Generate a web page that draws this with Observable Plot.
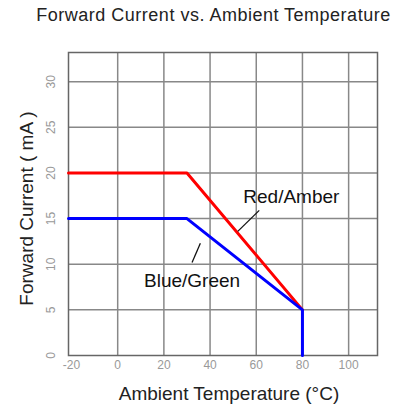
<!DOCTYPE html>
<html>
<head>
<meta charset="utf-8">
<script src="https://cdn.jsdelivr.net/npm/d3@7"></script>
<script src="https://cdn.jsdelivr.net/npm/@observablehq/plot@0.6"></script>
<style>
  html, body { margin: 0; padding: 0; background: #fff; }
  body { width: 404px; height: 407px; overflow: hidden; font-family: "Liberation Sans", Arial, sans-serif; }
  #title { height: 30px; line-height: 30px; font-size: 18px; letter-spacing: 0.5px; color: #222; text-align: center; padding-left: 23px; white-space: nowrap; }
  #chart svg { display: block; }
</style>
</head>
<body>
<div id="title">Forward Current vs. Ambient Temperature</div>
<div id="chart"></div>
<script>
// Data
const redTemp = [-21.3, 30, 80];
const redCurrent = [20, 20, 5];
const blueTemp = [-21.3, 30, 80, 80];
const blueCurrent = [15, 15, 5, 0];

const xTicks = [-20, 0, 20, 40, 60, 80, 100];
const yTicks = [0, 5, 10, 15, 20, 25, 30];

const labelNames = ["Red/Amber", "Blue/Green"];
const labelTemp = [75.2, 32.2];
const labelCurrent = [17.4, 8.2];
const leaderTemp1 = [52.0, 32.2];
const leaderCurrent1 = [13.6, 10.2];
const leaderTemp2 = [61.3, 35.8];
const leaderCurrent2 = [15.9, 12.3];

const red = redTemp.map((t, i) => ({t, c: redCurrent[i]}));
const blue = blueTemp.map((t, i) => ({t, c: blueCurrent[i]}));
const labels = labelNames.map((name, i) => ({name, t: labelTemp[i], c: labelCurrent[i]}));
const leaders = labelNames.map((name, i) => ({x1: leaderTemp1[i], y1: leaderCurrent1[i], x2: leaderTemp2[i], y2: leaderCurrent2[i]}));

const font = "Liberation Sans, Arial, sans-serif";

const chart = Plot.plot({
  width: 404,
  height: 377,
  marginLeft: 68,
  marginRight: 27,
  marginTop: 22,
  marginBottom: 52,
  style: {fontFamily: font, background: "#fff"},
  x: {domain: [-21.3, 112.5]},
  y: {domain: [0, 33.2]},
  marks: [
    Plot.gridX(xTicks.filter(d => d > -20), {stroke: "#888", strokeOpacity: 1, strokeWidth: 1.5}),
    Plot.gridY(yTicks.filter(d => d > 0), {stroke: "#888", strokeOpacity: 1, strokeWidth: 1.5}),
    Plot.frame({stroke: "#666", strokeWidth: 1.5}),
    Plot.axisX(xTicks, {tickSize: 0, tickPadding: 5, fill: "#999", fontSize: 12, label: null, tickFormat: d => String(d)}),
    Plot.axisY(yTicks, {tickSize: 0, tickPadding: 14, tickRotate: -90, fill: "#999", fontSize: 12, label: null}),
    Plot.line(red, {x: "t", y: "c", stroke: "#ff0000", strokeWidth: 3}),
    Plot.line(blue, {x: "t", y: "c", stroke: "#0000ff", strokeWidth: 3}),
    Plot.link(leaders, {x1: "x1", y1: "y1", x2: "x2", y2: "y2", stroke: "#111", strokeWidth: 1.3}),
    Plot.text(labels, {x: "t", y: "c", text: "name", fontSize: 19, fill: "#111"}),
    Plot.text(["Ambient Temperature (°C)"], {frameAnchor: "bottom", textAnchor: "middle", dx: 6, dy: 44, fontSize: 19, fill: "#222"}),
    Plot.text(["Forward Current ( mA )"], {frameAnchor: "left", textAnchor: "middle", lineAnchor: "middle", dx: -42, dy: 4.5, rotate: -90, fontSize: 19, fill: "#222"})
  ]
});
document.getElementById("chart").appendChild(chart);
</script>
</body>
</html>
